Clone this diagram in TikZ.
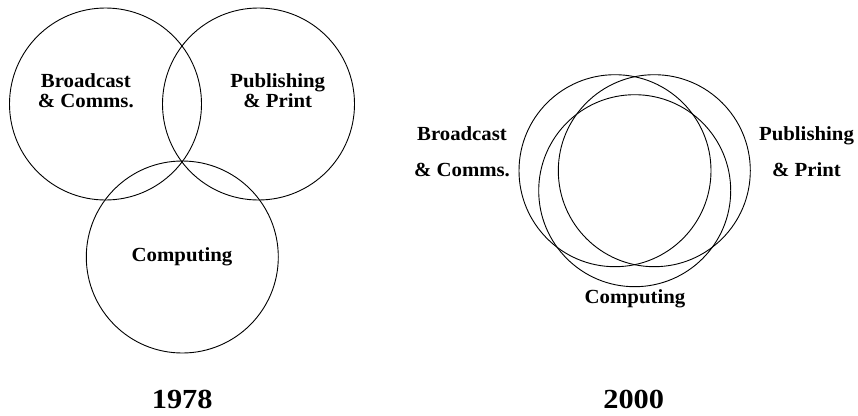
\documentclass[tikz,border=0pt]{standalone}
\usepackage{fontspec}
\setmainfont{Liberation Serif}[FakeStretch=1.04]
\newfontfamily\yearfont{Liberation Serif}[FakeStretch=1.1]

\begin{document}
\begin{tikzpicture}[
  x=1pt,y=-1pt,
  ring/.style={circle, draw, line width=0.9pt, minimum size=192pt, inner sep=0pt},
  lbl/.style={font=\fontsize{20}{20}\selectfont\bfseries, align=center, anchor=base, inner sep=0pt},
  widelbl/.style={lbl, font=\fontsize{20}{36.7}\selectfont\bfseries},
  year/.style={font=\yearfont\fontsize{27.6}{27.6}\selectfont\bfseries, anchor=base, inner sep=0pt}
]
\useasboundingbox (0,0) rectangle (858,415);

% ---- 1978: three overlapping fields ----
\node[ring] (bc78) at (105.5,104) {};
\node[ring] (pp78) at (258.5,104) {};
\node[ring] (cp78) at (182.3,257) {};

\node[lbl] (bc78t) at (85.8,107.2)  {Broadcast\\\& Comms.};
\node[lbl] (pp78t) at (277.7,107.2) {Publishing\\\& Print};
\node[lbl] (cp78t) at (182,261.7)   {Computing};

\node[year] (y78) at (182.2,408) {1978};

% ---- 2000: fields almost merged ----
\node[ring] (bc00) at (615,170.7)   {};
\node[ring] (pp00) at (654.3,170.7) {};
\node[ring] (cp00) at (634.7,190.7) {};

\node[widelbl] (bc00t) at (462,176.7)   {Broadcast\\\& Comms.};
\node[widelbl] (pp00t) at (806.5,176.7) {Publishing\\\& Print};
\node[lbl]     (cp00t) at (635,303.3)   {Computing};

\node[year] (y00) at (633.7,408) {2000};

\end{tikzpicture}
\end{document}
